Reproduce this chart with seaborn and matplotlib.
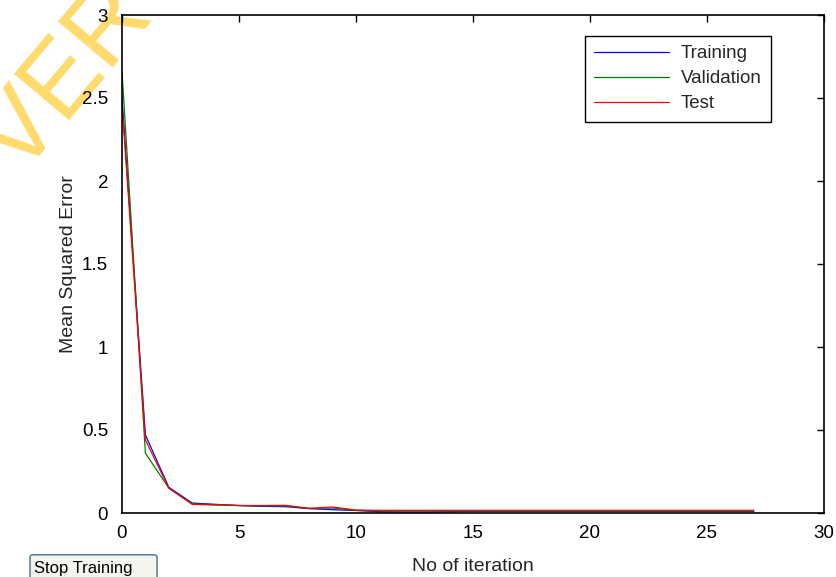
import matplotlib
matplotlib.use("Agg")
import matplotlib.pyplot as plt
import seaborn as sns
import pandas as pd
from matplotlib.patches import FancyBboxPatch

iterations = list(range(28))
training = [2.50, 0.47, 0.155, 0.060, 0.052, 0.045, 0.040, 0.038, 0.026, 0.020, 0.015,
            0.008, 0.006, 0.006, 0.008, 0.010, 0.010, 0.010, 0.010, 0.010, 0.010,
            0.010, 0.010, 0.010, 0.010, 0.010, 0.010, 0.010]
validation = [2.66, 0.36, 0.150, 0.055, 0.050, 0.045, 0.043, 0.042, 0.028, 0.030, 0.016,
              0.012, 0.012, 0.012, 0.012, 0.012, 0.012, 0.012, 0.012, 0.012, 0.012,
              0.012, 0.012, 0.012, 0.012, 0.012, 0.012, 0.012]
test = [2.46, 0.44, 0.150, 0.052, 0.048, 0.045, 0.045, 0.046, 0.028, 0.036, 0.018,
        0.016, 0.016, 0.016, 0.016, 0.016, 0.016, 0.016, 0.016, 0.016, 0.016,
        0.016, 0.016, 0.016, 0.016, 0.016, 0.016, 0.016]
series_names = ["Training", "Validation", "Test"]
series_colors = ["#0000FF", "#008000", "#FF0000"]
x_ticks = [0, 5, 10, 15, 20, 25, 30]
y_ticks = [0, 0.5, 1, 1.5, 2, 2.5, 3]
y_tick_labels = ["0", "0.5", "1", "1.5", "2", "2.5", "3"]

df = pd.DataFrame({
    "iter": iterations * 3,
    "mse": training + validation + test,
    "series": sum([[n] * len(iterations) for n in series_names], []),
})

sns.set_style("white")
plt.rcParams["font.family"] = ["Liberation Sans", "DejaVu Sans"]

fig = plt.figure(figsize=(8.37, 5.77), dpi=100)
ax = fig.add_axes([122 / 837, 1 - 513 / 577, (824 - 122) / 837, (513 - 15) / 577])
ax.patch.set_alpha(0)

sns.lineplot(data=df, x="iter", y="mse", hue="series", hue_order=series_names,
             palette=dict(zip(series_names, series_colors)), linewidth=0.9, ax=ax)

ax.set_xlim(0, 30)
ax.set_ylim(0, 3)
ax.set_xticks(x_ticks)
ax.set_xticklabels([str(t) for t in x_ticks])
ax.set_yticks(y_ticks)
ax.set_yticklabels(y_tick_labels)
ax.tick_params(direction="in", length=5, width=1, top=True, right=True,
               labelsize=13.5, colors="black")
ax.tick_params(axis="x", pad=9)
ax.tick_params(axis="y", pad=10)
for s in ax.spines.values():
    s.set_visible(True)
    s.set_color("black")
    s.set_linewidth(1.2)
ax.set_xlabel("No of iteration", fontsize=14, labelpad=11.5)
ax.set_ylabel("Mean Squared Error", fontsize=14, labelpad=3.5)

leg = ax.legend(loc="upper right", bbox_to_anchor=(0.9245, 0.958), borderaxespad=0,
                fontsize=13.5, frameon=True, fancybox=False, edgecolor="black",
                framealpha=1, handlelength=4.0, borderpad=0.5, labelspacing=0.42,
                handletextpad=0.6)
leg.get_frame().set_linewidth(1.0)
for h in leg.get_lines():
    h.set_linewidth(0.9)

# watermark fragment
fig.text(0.082, 0.862, "VER", fontsize=74, color="#FFD966", rotation=50,
         ha="center", va="center", alpha=0.95, zorder=-1)

# button
btn = FancyBboxPatch((30 / 837, 1 - 577 / 577 - 0.01), 127 / 837, 28 / 577,
                     boxstyle="round,pad=0.0,rounding_size=0.004",
                     transform=fig.transFigure, facecolor="#F4F4F0",
                     edgecolor="#4A6E9A", linewidth=1.0)
fig.patches.append(btn)
fig.text(83 / 837, 1 - 569 / 577, "Stop Training", fontsize=12, ha="center",
         va="center", color="black")

fig.savefig("out.png", dpi=100)
